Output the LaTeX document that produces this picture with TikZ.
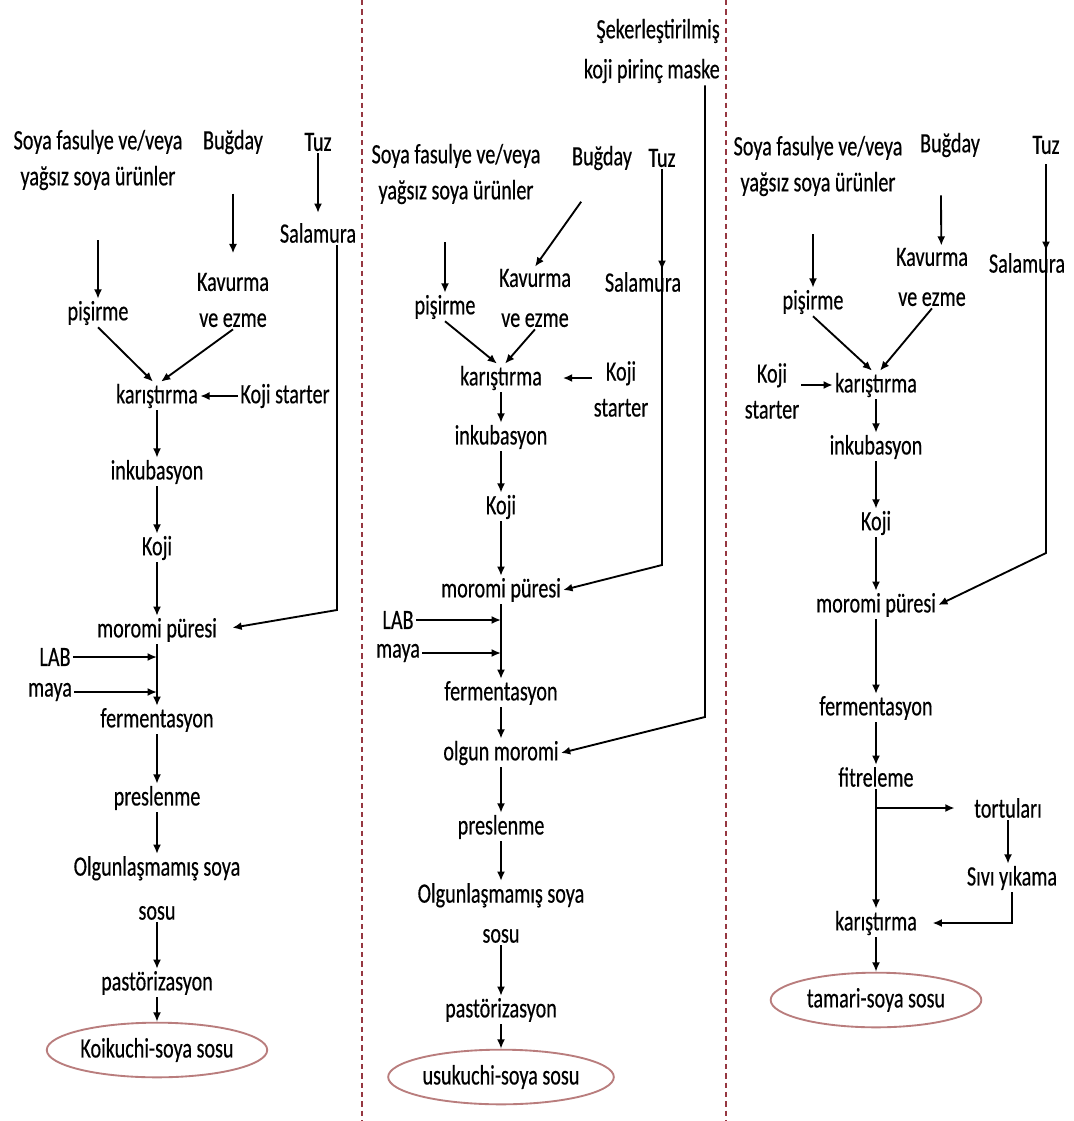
\documentclass[tikz,border=0pt]{standalone}
\usepackage{fontspec}
\setmainfont{Carlito}[FakeStretch=0.72,FakeBold=0.4]
\usetikzlibrary{arrows.meta,shapes.geometric}
\definecolor{kenar}{RGB}{185,125,125}
\definecolor{ayrac}{RGB}{150,55,65}
\newcommand{\arw}{-{Latex[length=7pt,width=6pt]}}
\tikzset{
  lbl/.style={inner sep=1pt,align=center,font=\fontsize{21}{27}\selectfont},
  sonuc/.style={lbl,ellipse,draw=kenar,line width=1.4pt,minimum width=158pt,minimum height=41pt},
  ayirici/.style={draw=ayrac,dash pattern=on 4pt off 3pt,line width=1pt},
}

\begin{document}
\begin{tikzpicture}[x=.75pt,y=-.75pt,line width=1.4pt]
\useasboundingbox[fill=white] (0,0) rectangle (1074,1121);
\draw[ayirici] (362,0) -- (362,1121);
\draw[ayirici] (726,0) -- (726,1121);
%koikuchi
\node[lbl] (soyaA) at (98,160) {Soya fasulye ve/veya\\yağsız soya ürünler};
\node[lbl] (bugdayA) at (233,142) {Buğday};
\node[lbl] (tuzA) at (318,142) {Tuz};
\node[lbl] (salamuraA) at (318,233) {Salamura};
\node[lbl] (pisirmeA) at (98,313) {pişirme};
\node[lbl] (kavurmaA) at (233,300) {Kavurma\\ve ezme};
\node[lbl] (karisA) at (157,396) {karıştırma};
\node[lbl] (kojistA) at (285,396) {Koji starter};
\node[lbl] (inkA) at (157,472) {inkubasyon};
\node[lbl] (kojiA) at (157,548) {Koji};
\node[lbl] (moromiA) at (157,630) {moromi püresi};
\node[lbl] (labA) at (55,657) {LAB};
\node[lbl] (mayaA) at (50,692) {maya};
\node[lbl] (fermA) at (157,720) {fermentasyon};
\node[lbl] (presA) at (157,798) {preslenme};
\node[lbl] (olgunA) at (157,888) {Olgunlaşmamış soya\\[6pt]sosu};
\node[lbl] (pastA) at (157,983) {pastörizasyon};
\node[sonuc] (koikuchi) at (157,1050) {Koikuchi-soya sosu};
\coordinate (donusA) at (337,610);
\draw[\arw,shorten <=36pt] (soyaA.south) -- (pisirmeA.north);
\draw[\arw,shorten <=28pt,shorten >=13pt] (bugdayA.south) -- (kavurmaA.north);
\draw[\arw,shorten >=6pt] (tuzA.south) -- (salamuraA.north);
\draw[\arw] (pisirmeA.south) -- ([xshift=-3pt]karisA.north);
\draw[\arw] (kavurmaA.south) -- ([xshift=3pt]karisA.north);
\draw[\arw] (kojistA) -- (karisA);
\draw[\arw,shorten >=10pt] (salamuraA.south -| donusA) -- (donusA) -- (moromiA.east);
\draw[\arw] (karisA) -- (inkA);
\draw[\arw] (inkA) -- (kojiA);
\draw[\arw] (kojiA) -- (moromiA);
\draw[\arw] (labA) -- (labA -| fermA);
\draw[\arw] (mayaA) -- (mayaA -| fermA);
\draw[\arw] (moromiA) -- (fermA);
\draw[\arw] (fermA) -- (presA);
\draw[\arw] (presA) -- (olgunA);
\draw[\arw] (olgunA) -- (pastA);
\draw[\arw] (pastA) -- (koikuchi);
%usukuchi
\node[lbl,align=right,anchor=east] (seker) at (722,51) {Şekerleştirilmiş\\[3pt]koji pirinç maske};
\node[lbl] (soyaB) at (456,174) {Soya fasulye ve/veya\\yağsız soya ürünler};
\node[lbl] (bugdayB) at (602,158) {Buğday};
\node[lbl] (tuzB) at (662,158) {Tuz};
\node[lbl] (pisirmeB) at (445,307) {pişirme};
\node[lbl] (kavurmaB) at (535,298) {Kavurma\\[3pt]ve ezme};
\node[lbl] (salamuraB) at (643,282) {Salamura};
\node[lbl] (karisB) at (501,378) {karıştırma};
\node[lbl] (kojistB) at (621,389) {Koji\\starter};
\node[lbl] (inkB) at (501,437) {inkubasyon};
\node[lbl] (kojiB) at (501,507) {Koji};
\node[lbl] (moromiB) at (501,590) {moromi püresi};
\node[lbl] (labB) at (398,620) {LAB};
\node[lbl] (mayaB) at (398,653) {maya};
\node[lbl] (fermB) at (501,693) {fermentasyon};
\node[lbl] (olgunmB) at (501,753) {olgun moromi};
\node[lbl] (presB) at (501,827) {preslenme};
\node[lbl] (olgunB) at (501,913) {Olgunlaşmamış soya\\[3pt]sosu};
\node[lbl] (pastB) at (501,1010) {pastörizasyon};
\node[sonuc] (usukuchi) at (501,1077) {usukuchi-soya sosu};
\coordinate (donusS) at (705,717);
\coordinate (donusB) at (662,565);
\draw[\arw] (seker.south -| donusS) -- (donusS) -- (olgunmB.east);
\draw[\arw,shorten <=27pt] (soyaB.south -| pisirmeB) -- (pisirmeB.north);
\draw[\arw,shorten <=27pt] (bugdayB.south) -- (kavurmaB.north);
\draw[\arw] (tuzB.south) -- (tuzB |- salamuraB.north);
\draw[\arw] (tuzB.south) -- (donusB) -- (moromiB.east);
\draw[\arw] (pisirmeB.south) -- ([xshift=-3pt]karisB.north);
\draw[\arw] (kavurmaB.south) -- ([xshift=3pt]karisB.north);
\draw[\arw,shorten >=14pt] (karisB.east -| kojistB.west) -- (karisB.east);
\draw[\arw] (karisB) -- (inkB);
\draw[\arw] (inkB) -- (kojiB);
\draw[\arw] (kojiB) -- (moromiB);
\draw[\arw] (labB) -- (labB -| fermB);
\draw[\arw] (mayaB) -- (mayaB -| fermB);
\draw[\arw] (moromiB) -- (fermB);
\draw[\arw] (fermB) -- (olgunmB);
\draw[\arw] (olgunmB) -- (presB);
\draw[\arw] (presB) -- (olgunB);
\draw[\arw] (olgunB) -- (pastB);
\draw[\arw] (pastB) -- (usukuchi);
%tamari
\node[lbl] (soyaC) at (818,166) {Soya fasulye ve/veya\\yağsız soya ürünler};
\node[lbl] (bugdayC) at (950,145) {Buğday};
\node[lbl] (tuzC) at (1046,145) {Tuz};
\node[lbl] (kavurmaC) at (932,277) {Kavurma\\[3pt]ve ezme};
\node[lbl] (pisirmeC) at (813,302) {pişirme};
\node[lbl] (salamuraC) at (1027,263) {Salamura};
\node[lbl] (karisC) at (876,385) {karıştırma};
\node[lbl] (kojistC) at (772,391) {Koji\\starter};
\node[lbl] (inkC) at (876,447) {inkubasyon};
\node[lbl] (kojiC) at (876,523) {Koji};
\node[lbl] (moromiC) at (876,605) {moromi püresi};
\node[lbl] (fermC) at (876,708) {fermentasyon};
\node[lbl] (fitC) at (876,777) {fitreleme};
\node[lbl] (tortC) at (1008,808) {tortuları};
\node[lbl] (sividC) at (1012,878) {Sıvı yıkama};
\node[lbl] (karis2C) at (876,923) {karıştırma};
\node[sonuc] (tamari) at (876,1000) {tamari-soya sosu};
\coordinate (donusC) at (1046,553);
\draw[\arw,shorten <=27pt] (soyaC.south -| pisirmeC) -- (pisirmeC.north);
\draw[\arw,shorten <=27pt] ([xshift=-7pt]bugdayC.south) -- ([xshift=7pt]kavurmaC.north);
\draw[\arw,shorten <=6pt] (tuzC.south) -- (tuzC |- salamuraC.north);
\draw[\arw,shorten <=6pt] (tuzC.south) -- (donusC) -- (moromiC.east);
\draw[\arw] (pisirmeC.south) -- ([xshift=-3pt]karisC.north);
\draw[\arw] (kavurmaC.south) -- ([xshift=3pt]karisC.north);
\draw[\arw] (kojistC.east |- karisC) -- (karisC.west);
\draw[\arw] (karisC) -- (inkC);
\draw[\arw] (inkC) -- (kojiC);
\draw[\arw] (kojiC) -- (moromiC);
\draw[\arw] (moromiC) -- (fermC);
\draw[\arw] (fermC) -- (fitC);
\draw[\arw] (fitC) -- (karis2C);
\draw[\arw,shorten >=13pt] (fitC |- tortC) -- (tortC.west);
\draw[\arw] (tortC.south) -- (tortC.south |- sividC.north);
\draw[\arw,shorten >=10pt] (sividC.south) |- (karis2C.east);
\draw[\arw] (karis2C) -- (tamari);
\end{tikzpicture}
\end{document}
